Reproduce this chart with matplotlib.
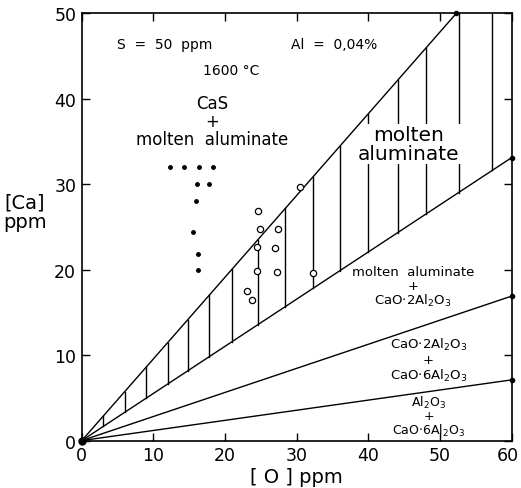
import matplotlib
matplotlib.use("Agg")
import matplotlib.pyplot as plt
from matplotlib.transforms import ScaledTranslation
import numpy as np

# Boundary lines (through origin): value of [Ca] at given [O]
upper_end = (52.3, 50.0)     # upper boundary reaches top of frame
line2_end = (60.0, 33.1)     # lower boundary of molten aluminate
line3_end = (60.0, 16.9)
line4_end = (60.0, 7.1)

hatch_x = [3.0, 6.0, 9.0, 12.0, 14.8, 17.8, 21.0, 24.6, 28.4, 32.3, 36.0,
           40.0, 44.1, 48.1, 52.6, 57.3]

filled_O = [12.3, 14.3, 16.3, 18.3, 16.1, 17.8, 16.0, 15.5, 16.2, 16.2]
filled_Ca = [32.0, 32.0, 32.0, 32.0, 30.0, 30.0, 28.0, 24.4, 21.8, 19.9]

open_O = [30.4, 24.6, 24.9, 27.4, 24.5, 26.9, 24.5, 27.3, 32.3, 23.0, 23.7]
open_Ca = [29.7, 26.8, 24.7, 24.7, 22.6, 22.5, 19.8, 19.7, 19.6, 17.5, 16.5]

x_ticks = [0, 10, 20, 30, 40, 50, 60]
y_ticks = [0, 10, 20, 30, 40, 50]

fig = plt.figure(figsize=(5.21, 4.89), dpi=100)
ax = fig.add_axes([0.157, 0.097, 0.825, 0.874])
ax.set_xlim(0, 60)
ax.set_ylim(0, 50)

lw = 1.0
for end in [upper_end, line2_end, line3_end, line4_end]:
    ax.plot([0, end[0]], [0, end[1]], color="black", lw=lw, zorder=2)
    ax.plot([end[0]], [end[1]], "o", color="black", ms=3, zorder=3, clip_on=False)
ax.plot([0], [0], "o", color="black", ms=5, zorder=3, clip_on=False)

su = upper_end[1] / upper_end[0]
s2 = line2_end[1] / line2_end[0]
for x in hatch_x:
    ytop = min(su * x, 50.0)
    ybot = s2 * x
    ax.plot([x, x], [ybot, ytop], color="black", lw=lw, zorder=1)

ax.plot(filled_O, filled_Ca, "o", color="black", ms=2.5, zorder=3)
ax.plot(open_O, open_Ca, "o", mfc="white", mec="black", mew=0.9, ms=4.5, zorder=3)

fs = 10
ax.text(11.6, 46.4, "S  =  50  ppm", ha="center", va="center", fontsize=fs)
ax.text(35.2, 46.4, "Al  =  0,04%", ha="center", va="center", fontsize=fs)
ax.text(20.9, 43.4, "1600 °C", ha="center", va="center", fontsize=fs)
ax.text(18.2, 37.4, "CaS\n+\nmolten  aluminate", ha="center", va="center",
        fontsize=12, linespacing=1.0)
ax.text(45.6, 34.7, "molten\naluminate", ha="center", va="center", fontsize=14.5,
        linespacing=1.0, zorder=1.5,
        bbox=dict(facecolor="white", edgecolor="none", pad=1))
ax.text(46.2, 18.0, "molten  aluminate\n+\nCaO$\\cdot$2Al$_2$O$_3$", ha="center",
        va="center", fontsize=9.5, linespacing=1.05, zorder=4)
ax.text(48.4, 9.5, "CaO$\\cdot$2Al$_2$O$_3$\n+\nCaO$\\cdot$6Al$_2$O$_3$", ha="center",
        va="center", fontsize=9.5, linespacing=1.05, zorder=4)
ax.text(48.4, 0.35, "Al$_2$O$_3$\n+\nCaO$\\cdot$6Al$_2$O$_3$", ha="center",
        va="bottom", fontsize=9, linespacing=0.95, zorder=4)

ax.set_xticks(x_ticks)
ax.set_yticks(y_ticks)
ax.tick_params(direction="in", length=6, width=1, labelsize=12.5,
               top=True, right=True, pad=4)
for sp in ax.spines.values():
    sp.set_linewidth(1.2)

last = ax.get_xticklabels()[-1]
last.set_transform(last.get_transform() + ScaledTranslation(-4 / 100, 0, fig.dpi_scale_trans))

ax.set_xlabel("[ O ] ppm", fontsize=14, labelpad=2)
fig.text(0.048, 0.565, "[Ca]\nppm", ha="center", va="center", fontsize=14,
         linespacing=1.0)

fig.savefig("out.png", dpi=100)
